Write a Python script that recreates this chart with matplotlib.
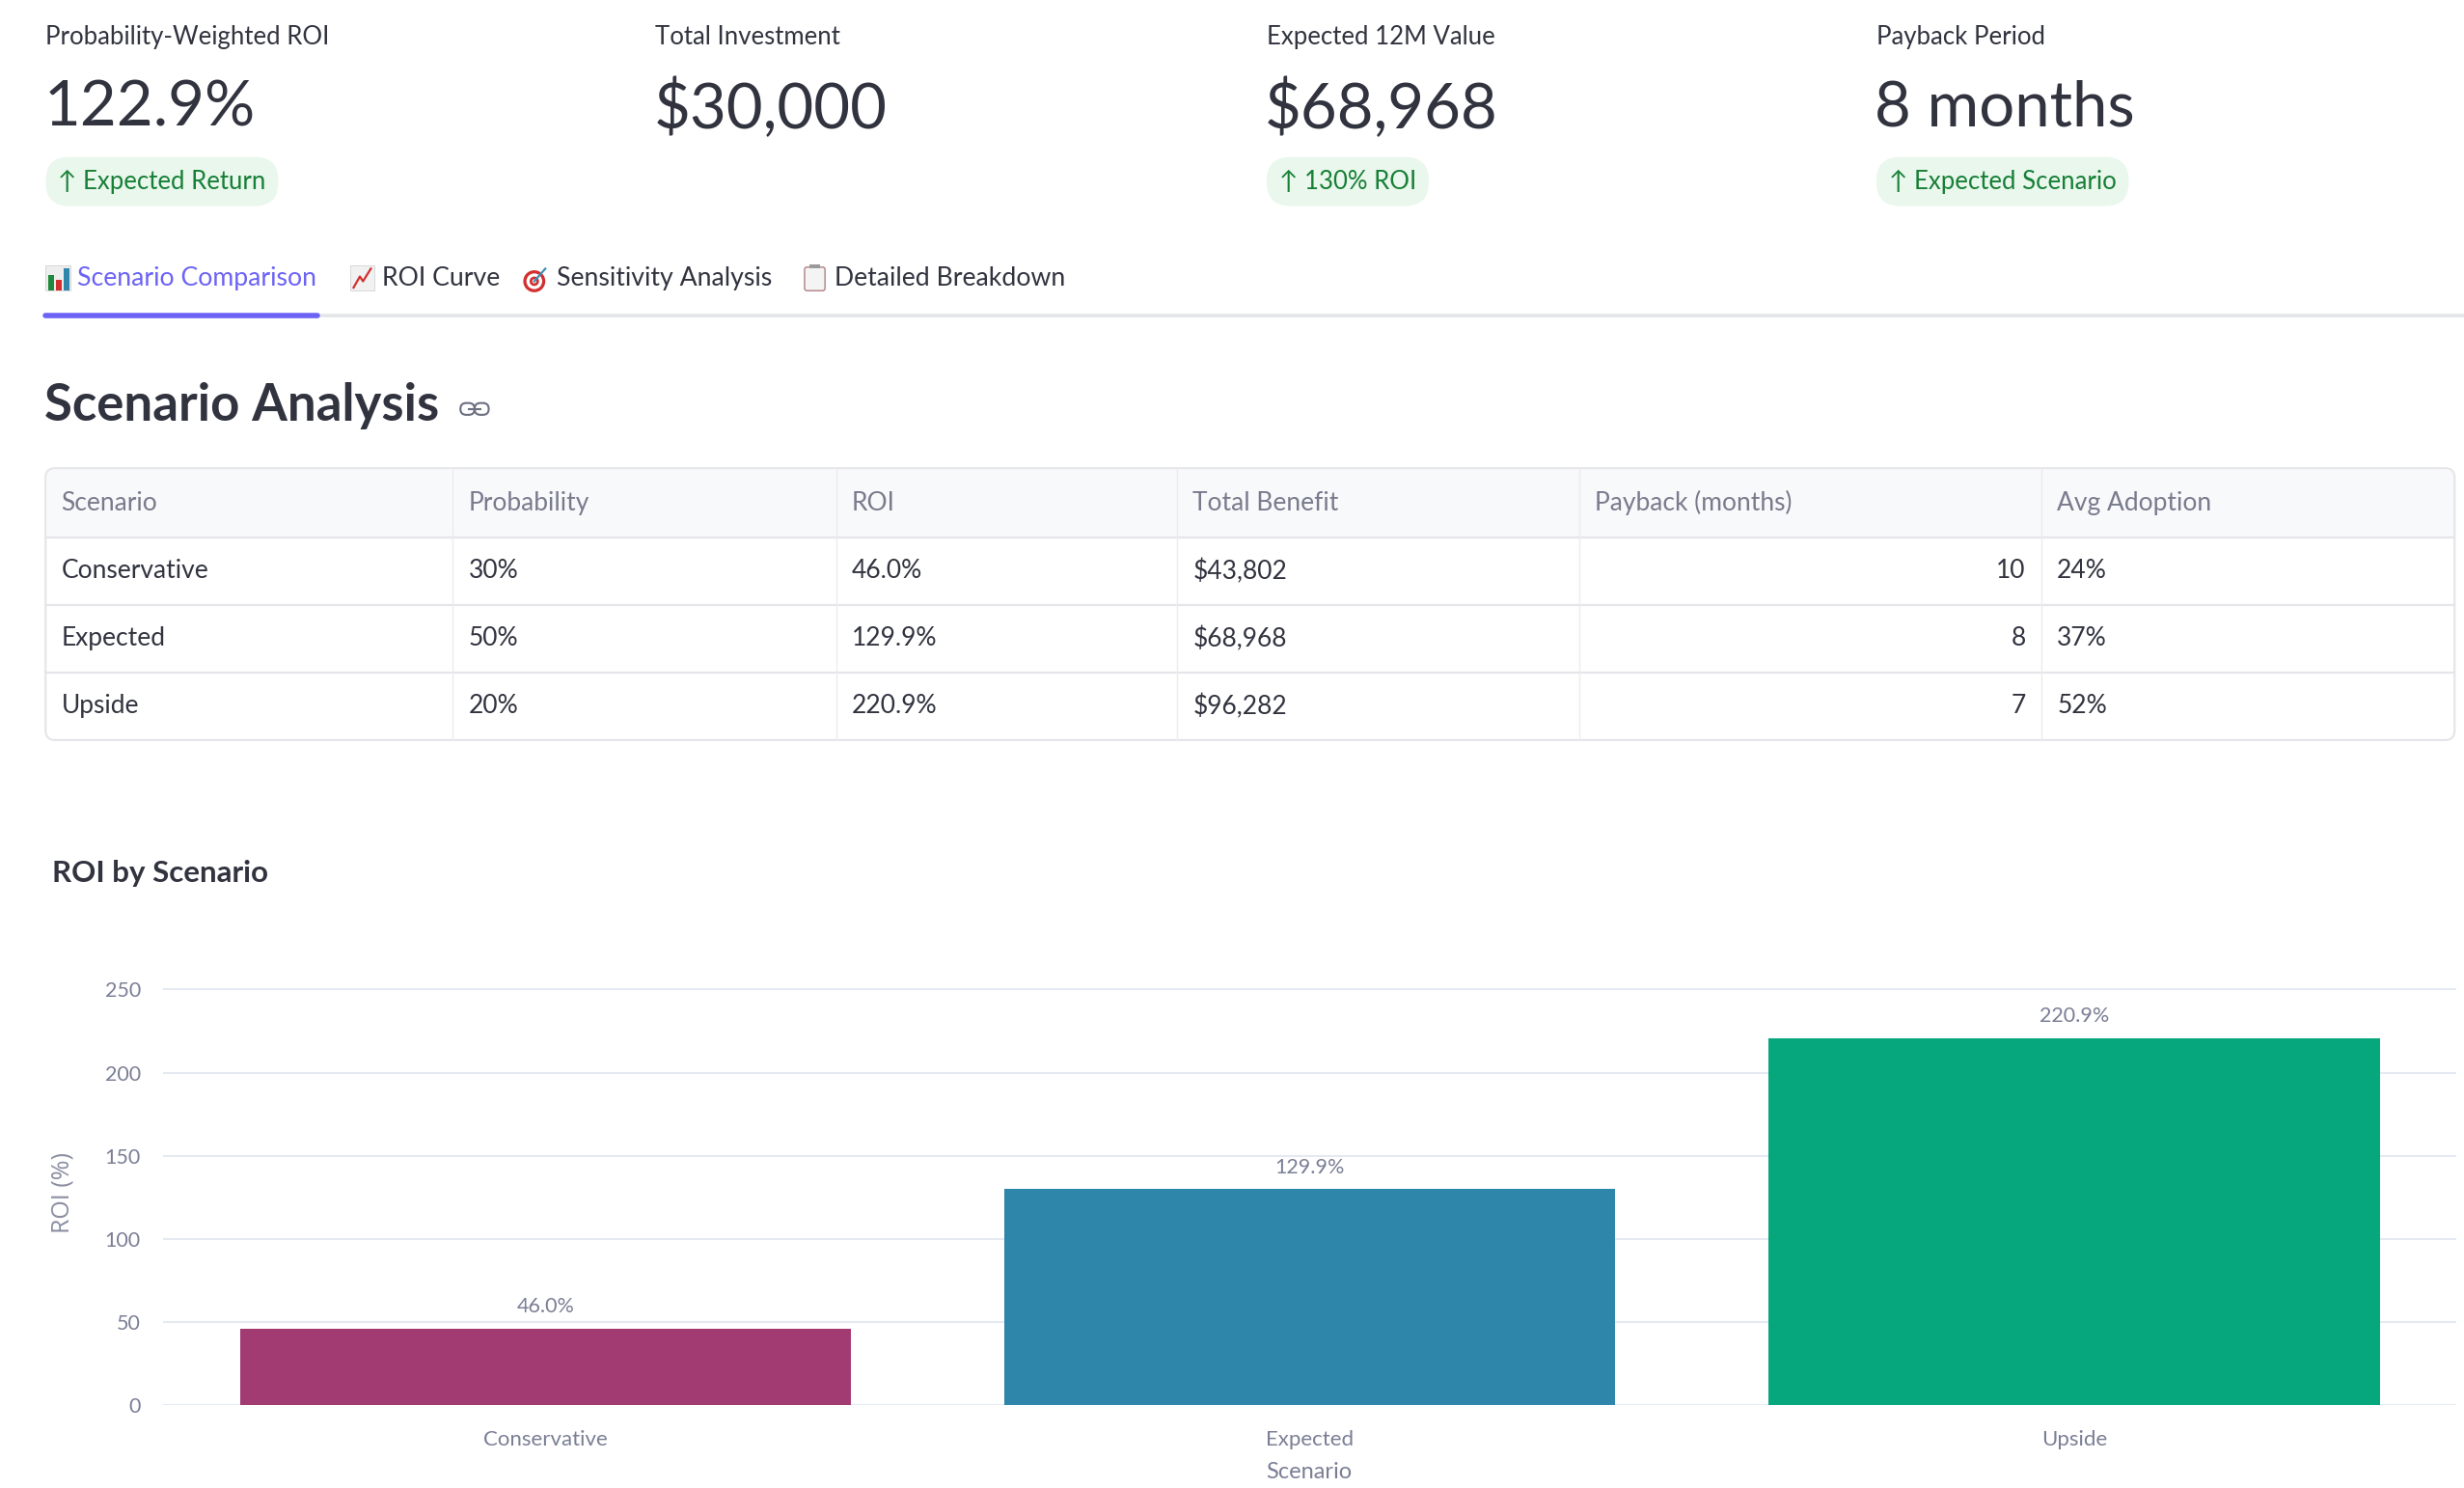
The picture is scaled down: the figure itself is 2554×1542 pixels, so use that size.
import matplotlib
matplotlib.use("Agg")
import matplotlib.pyplot as plt
from matplotlib.patches import FancyBboxPatch, Rectangle, Circle
import numpy as np

# ---- data ----
metric_labels = ["Probability-Weighted ROI", "Total Investment", "Expected 12M Value", "Payback Period"]
metric_values = ["122.9%", "$30,000", "$68,968", "8 months"]
metric_deltas = ["Expected Return", None, "130% ROI", "Expected Scenario"]

tab_names = ["Scenario Comparison", "ROI Curve", "Sensitivity Analysis", "Detailed Breakdown"]

table_columns = ["Scenario", "Probability", "ROI", "Total Benefit", "Payback (months)", "Avg Adoption"]
scenarios = ["Conservative", "Expected", "Upside"]
probability = ["30%", "50%", "20%"]
roi_text = ["46.0%", "129.9%", "220.9%"]
total_benefit = ["$43,802", "$68,968", "$96,282"]
payback_months = [10, 8, 7]
avg_adoption = ["24%", "37%", "52%"]

roi_values = [46.0, 129.9, 220.9]
bar_colors = ["#A23B72", "#2E86AB", "#06A77D"]

# ---- look ----
FONT = ["Lato", "DejaVu Sans"]
plt.rcParams["font.family"] = FONT
DARK = "#31333F"
GRAY = "#7a7f95"
GREEN = "#177f36"
PILL = "#e9f7ec"
PURPLE = "#6c63f5"
LINE = "#e6e6ea"

W, H = 1568, 947   # layout grid (screen px), figure is 2554x1542
fig = plt.figure(figsize=(25.54, 15.42), dpi=100)
fig.patch.set_facecolor("white")

bg = fig.add_axes([0, 0, 1, 1])
bg.set_xlim(0, W)
bg.set_ylim(H, 0)
bg.axis("off")

# metric cards
card_x = [29, 417, 806, 1194]
for x, lab, val, dlt in zip(card_x, metric_labels, metric_values, metric_deltas):
    bg.text(x, 23.5, lab, fontsize=18.5, color=DARK, va="center", ha="left")
    bg.text(x - 1, 69, val, fontsize=47, color=DARK, va="center", ha="left")
    if dlt:
        bg.text(x + 8, 115.5, "\u2191 " + dlt, fontsize=18.5, color=GREEN, va="center", ha="left",
                bbox=dict(boxstyle="round,pad=0.5,rounding_size=0.95", fc=PILL, ec="none"))

# tabs
bg.plot([29, W], [201, 201], color="#e4e5e9", lw=2.6, solid_capstyle="butt")
bg.plot([29, 202], [201, 201], color=PURPLE, lw=4, solid_capstyle="round")

tab_icon_x = [29, 223, 333, 511]
tab_text_x = [49, 243, 354, 531]
for i, (ix, tx, name) in enumerate(zip(tab_icon_x, tab_text_x, tab_names)):
    bg.text(tx, 177, name, fontsize=19.2, color=PURPLE if i == 0 else DARK, va="center", ha="left")
    if i == 0:
        bg.add_patch(Rectangle((ix, 169), 16, 16, fc="#eeeeee", ec="#cccccc", lw=0.5))
        for bx, bh, bc in [(ix + 1.5, 10, "#1e8a3c"), (ix + 6.5, 7, "#d32f2f"), (ix + 11.5, 14, "#2e86ab")]:
            bg.add_patch(Rectangle((bx, 185 - bh), 4, bh, fc=bc, ec="none"))
    elif i == 1:
        bg.add_patch(Rectangle((ix, 169), 15, 16, fc="#f1f1f1", ec="#cccccc", lw=0.5))
        bg.plot([ix + 2, ix + 6, ix + 8, ix + 13], [183, 176, 179, 171], color="#d32f2f", lw=1.6)
    elif i == 2:
        for r, c in [(7, "#d32f2f"), (5, "white"), (3, "#d32f2f"), (1.3, "white")]:
            bg.add_patch(Circle((ix + 7, 179), r, fc=c, ec="none"))
        bg.plot([ix + 7, ix + 14], [179, 171], color="#3a8fb7", lw=1.6)
    else:
        bg.add_patch(FancyBboxPatch((ix + 1, 170), 13, 15, boxstyle="round,pad=0,rounding_size=1.5",
                                    fc="#f4f4f4", ec="#b08080", lw=1))
        bg.add_patch(Rectangle((ix + 4, 168), 7, 3, fc="#9a9a9a", ec="none"))

# section heading
bg.text(28, 258, "Scenario Analysis", fontsize=38, fontweight="bold", color=DARK, va="center", ha="left")
for lx in (293, 302):
    bg.add_patch(FancyBboxPatch((lx, 256.5), 9, 7.5, boxstyle="round,pad=0,rounding_size=3.7",
                                fc="none", ec="#6b6f80", lw=1.5))
bg.plot([298.5, 305.5], [260.2, 260.2], color="#6b6f80", lw=1.5)

# table
col_edges = [29, 288, 532, 749, 1005, 1299, 1562]
row_edges = [298, 342, 385, 428, 471]
bg.add_patch(FancyBboxPatch((col_edges[0], row_edges[0]), col_edges[-1] - col_edges[0],
                            row_edges[-1] - row_edges[0], boxstyle="round,pad=0,rounding_size=6",
                            fc="white", ec=LINE, lw=1.6, zorder=1))
bg.add_patch(FancyBboxPatch((col_edges[0] + 0.8, row_edges[0] + 0.8), col_edges[-1] - col_edges[0] - 1.6,
                            row_edges[1] - row_edges[0], boxstyle="round,pad=0,rounding_size=5",
                            fc="#f8f9fb", ec="none", zorder=1.1))
bg.add_patch(Rectangle((col_edges[0] + 0.8, row_edges[0] + 20), col_edges[-1] - col_edges[0] - 1.6,
                       row_edges[1] - row_edges[0] - 20, fc="#f8f9fb", ec="none", zorder=1.1))
for y in row_edges[1:-1]:
    bg.plot([col_edges[0], col_edges[-1]], [y, y], color=LINE, lw=1.6, zorder=2)
for x in col_edges[1:-1]:
    bg.plot([x, x], [row_edges[0], row_edges[-1]], color="#ececef", lw=1.0, zorder=2)

for j, name in enumerate(table_columns):
    bg.text(col_edges[j] + 10, 320, name, fontsize=19, color="#777b8c", va="center", ha="left", zorder=3)

rows = list(zip(scenarios, probability, roi_text, total_benefit, payback_months, avg_adoption))
for i, row in enumerate(rows):
    yc = (row_edges[i + 1] + row_edges[i + 2]) / 2
    for j, cell in enumerate(row):
        if j == 4:
            bg.text(col_edges[j + 1] - 10, yc, str(cell), fontsize=19, color=DARK, va="center", ha="right", zorder=3)
        else:
            bg.text(col_edges[j] + 10, yc, str(cell), fontsize=19, color=DARK, va="center", ha="left", zorder=3)

# chart
bg.text(33, 556, "ROI by Scenario", fontsize=22.5, fontweight="bold", color=DARK, va="center", ha="left")

ax_left, ax_right, ax_top, ax_bottom = 104, 1563, 615, 894
ax = fig.add_axes([ax_left / W, 1 - ax_bottom / H, (ax_right - ax_left) / W, (ax_bottom - ax_top) / H])
ax.set_facecolor("none")
x = np.arange(len(scenarios))
bars = ax.bar(x, roi_values, width=0.8, color=bar_colors, zorder=3)
ax.set_xlim(-0.5, 2.5)
ax.set_ylim(0, 264)
ax.set_yticks([0, 50, 100, 150, 200, 250])
ax.set_xticks(x)
ax.set_xticklabels(scenarios)
ax.grid(axis="y", color="#e5e9f2", lw=1.5, zorder=0)
ax.axhline(0, color="#e0e5ef", lw=2.2, zorder=1)
for s in ax.spines.values():
    s.set_visible(False)
ax.tick_params(axis="y", length=0, pad=17, labelsize=15.5, labelcolor=GRAY)
ax.tick_params(axis="x", length=0, pad=19, labelsize=16, labelcolor=GRAY)
for rect, lbl in zip(bars, roi_text):
    ax.annotate(lbl, (rect.get_x() + rect.get_width() / 2, rect.get_height()),
                xytext=(0, 9), textcoords="offset points", ha="center", va="bottom",
                fontsize=15.5, color=GRAY)

fig.text(40 / W, 1 - 759 / H, "ROI (%)", rotation=90, fontsize=18, color="#8a8ea0",
         family=["Open Sans", "DejaVu Sans"], va="center", ha="center")
fig.text(833 / W, 1 - 937 / H, "Scenario", fontsize=17, color=GRAY, va="center", ha="center")

fig.savefig("out.png", dpi=100, facecolor="white")
